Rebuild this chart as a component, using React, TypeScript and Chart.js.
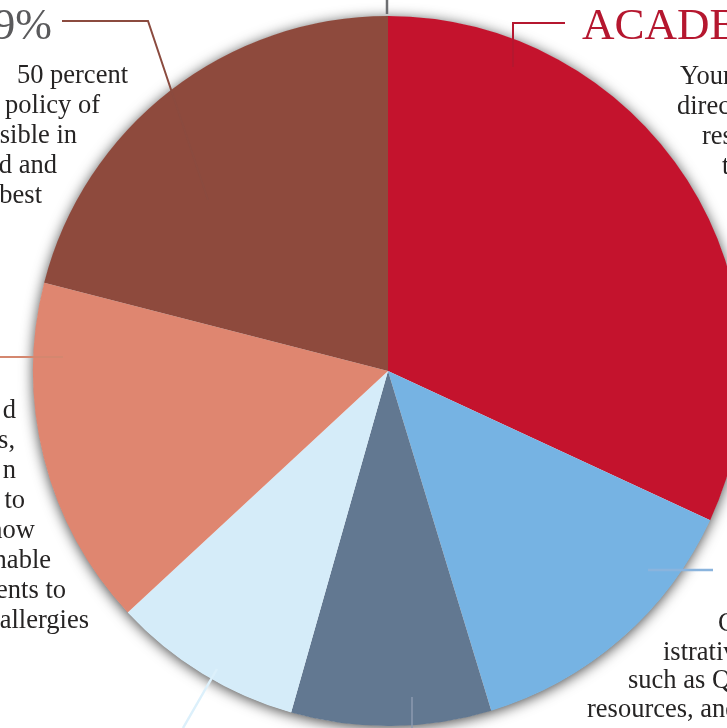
import React, { useEffect, useRef } from 'react';
import { Chart, registerables } from 'chart.js';

Chart.register(...registerables);

// ---- data ----
const categories = ['Academic', 'Administrative', 'Segment C', 'Segment D', 'Allergies', 'Policy'];
const shares = [31.9, 13.4, 9.1, 8.7, 15.9, 21.0];
const sliceColors = ['#c4132d', '#76b3e3', '#627891', '#d5ecf9', '#df8670', '#8e4a3d'];

// ---- annotation text ----
const headlineRight = 'ACADEMIC';
const headlineLeft = '9%';
const blockTopLeft = ['50 percent', 'policy of', 'sible in', 'd and', 'best'];
const blockMidLeft = ['d', 's,', 'n', 'to', 'now', 'nable', 'ents to', 'allergies'];
const blockTopRight = ['Your', 'direct', 'res', 't'];
const blockBottomRight = ['C', 'istrative', 'such as Q', 'resources, and'];

const SERIF = '"Liberation Serif", "Times New Roman", serif';
const TEXT = '#262424';

type Pt = [number, number];
const leaders: { pts: Pt[]; color: string; w: number }[] = [
  { pts: [[62, 21], [148, 21], [208, 200]], color: '#8b4b3f', w: 2 },
  { pts: [[565, 23], [513, 23], [513, 67]], color: '#b5172f', w: 2 },
  { pts: [[648, 570], [713, 570]], color: '#8ab4dd', w: 2.5 },
  { pts: [[0, 357], [63, 357]], color: '#d4876f', w: 2 },
  { pts: [[217, 669], [183, 728]], color: '#dcf0fb', w: 2.5 },
  { pts: [[387, 0], [387, 14]], color: '#6d6e71', w: 2.5 },
  { pts: [[412, 697], [412, 728]], color: '#8c9ab0', w: 1.5 },
];

const shadowPlugin = {
  id: 'pieShadow',
  beforeDatasetsDraw(chart: any) {
    const meta = chart.getDatasetMeta(0);
    const arc = meta.data[0];
    if (!arc) return;
    const { x, y, outerRadius } = arc.getProps(['x', 'y', 'outerRadius'], true);
    const ctx = chart.ctx;
    ctx.save();
    ctx.shadowColor = 'rgba(0,0,0,0.75)';
    ctx.shadowBlur = 14;
    ctx.shadowOffsetX = 0;
    ctx.shadowOffsetY = 2;
    ctx.fillStyle = '#ffffff';
    ctx.beginPath();
    ctx.arc(x, y, outerRadius - 0.5, 0, Math.PI * 2);
    ctx.fill();
    ctx.restore();
  },
};

const annotationPlugin = {
  id: 'annotations',
  afterDatasetsDraw(chart: any) {
    const ctx = chart.ctx;
    ctx.save();
    leaders.forEach((l) => {
      ctx.strokeStyle = l.color;
      ctx.lineWidth = l.w;
      ctx.lineJoin = 'miter';
      ctx.beginPath();
      l.pts.forEach((p, i) => (i === 0 ? ctx.moveTo(p[0], p[1]) : ctx.lineTo(p[0], p[1])));
      ctx.stroke();
    });

    ctx.textBaseline = 'alphabetic';
    ctx.font = `44px ${SERIF}`;
    ctx.fillStyle = '#5a5a5c';
    ctx.textAlign = 'right';
    ctx.fillText(headlineLeft, 52, 39);

    ctx.font = `45px ${SERIF}`;
    ctx.fillStyle = '#b5172f';
    ctx.textAlign = 'left';
    ctx.fillText(headlineRight, 582, 39);

    ctx.font = `26.5px ${SERIF}`;
    ctx.fillStyle = TEXT;

    ctx.textAlign = 'right';
    const tlRight = [128, 100, 77, 57, 42];
    blockTopLeft.forEach((s, i) => ctx.fillText(s, tlRight[i], 83 + 30 * i));

    const mlRight = [16, 15, 16, 25, 35, 51, 66, 89];
    blockMidLeft.forEach((s, i) => ctx.fillText(s, mlRight[i], 418 + 30 * i));

    ctx.textAlign = 'left';
    const trLeft = [680, 677, 702, 722];
    blockTopRight.forEach((s, i) => ctx.fillText(s, trLeft[i], 84 + 30 * i));

    const brLeft = [718, 663, 628, 587];
    const brBase = [631, 660, 688, 717];
    blockBottomRight.forEach((s, i) => ctx.fillText(s, brLeft[i], brBase[i]));

    ctx.restore();
  },
};

export default function App() {
  const ref = useRef<HTMLCanvasElement | null>(null);

  useEffect(() => {
    if (!ref.current) return;
    const chart = new Chart(ref.current, {
      type: 'pie',
      data: {
        labels: categories,
        datasets: [
          {
            data: shares,
            backgroundColor: sliceColors,
            borderWidth: 0,
            hoverOffset: 0,
            offset: 0,
          },
        ],
      },
      options: {
        animation: false,
        responsive: false,
        devicePixelRatio: 1,
        layout: { padding: { left: 33, top: 16, right: 17, bottom: 2 } },
        plugins: {
          legend: { display: false },
          tooltip: { enabled: false },
        },
        events: [],
      },
      plugins: [shadowPlugin, annotationPlugin],
    });
    return () => chart.destroy();
  }, []);

  return (
    <div
      style={{
        position: 'absolute',
        left: 0,
        top: 0,
        width: 727,
        height: 728,
        overflow: 'hidden',
        background: '#ffffff',
      }}
    >
      <canvas ref={ref} width={760} height={728} style={{ display: 'block', width: 760, height: 728 }} />
    </div>
  );
}
